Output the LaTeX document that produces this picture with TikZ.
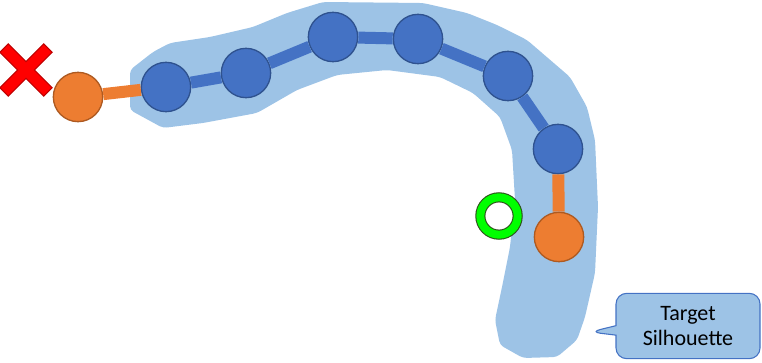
\documentclass[tikz,border=0pt]{standalone}
\usepackage{fontspec}
\setmainfont{Carlito}
\usepackage{xcolor}
\usetikzlibrary{shapes.callouts}
\definecolor{sil}{HTML}{9DC3E6}
\definecolor{seg}{HTML}{4472C4}
\definecolor{segdark}{HTML}{2F528F}
\definecolor{tip}{HTML}{ED7D31}
\definecolor{tipdark}{HTML}{AE5A21}
\definecolor{goal}{HTML}{00FF00}
\definecolor{goaldark}{HTML}{2E4F1A}

\begin{document}
\begin{tikzpicture}[x=0.75pt, y=-0.75pt,
		bd/.style={circle, draw=segdark, fill=seg, line width=1pt, minimum size=37pt, inner sep=0pt},
		en/.style={circle, draw=tipdark, fill=tip, line width=1pt, minimum size=37pt, inner sep=0pt},
		lk/.style={line width=9pt, seg},
		tl/.style={line width=9pt, tip}]
	\useasboundingbox (0,0) rectangle (762,363);
	% target silhouette
	\fill[sil, rounded corners=3pt] (130,70) -- (153,52) -- (170,43) -- (210,37) -- (253,27)
		-- (287,13) -- (323,2) -- (423,3) -- (467,13) -- (497,25) -- (527,40) -- (570,77)
		-- (587,107) -- (595,140) -- (598,207) -- (595,273) -- (585,317) -- (577,340)
		-- (557,357) -- (523,358) -- (500,345) -- (495,320) -- (502,287) -- (510,247)
		-- (515,200) -- (512,150) -- (500,117) -- (473,93) -- (440,77) -- (387,70)
		-- (337,75) -- (297,90) -- (257,113) -- (203,123) -- (163,128) -- (130,110) -- cycle;
	\node[rectangle callout, rounded corners=8pt, draw=seg, fill=sil, line width=0.8pt,
		minimum width=108pt, minimum height=49pt, align=center, font=\fontsize{16.5}{19}\selectfont,
		callout absolute pointer={(590,332)}] (lbl) at (688,326) {Target\\Silhouette};
	% chain
	\node[en] (t0) at (78,97) {};
	\node[bd] (b1) at (166,87) {};
	\node[bd] (b2) at (246,73) {};
	\node[bd] (b3) at (333,37) {};
	\node[bd] (b4) at (418,39) {};
	\node[bd] (b5) at (508,76) {};
	\node[bd] (b6) at (558,149) {};
	\node[en] (t1) at (559,237) {};
	\foreach \x/\y in {b1/b2, b2/b3, b3/b4, b4/b5, b5/b6}
		\draw[lk] (\x) -- (\y);
	\draw[tl] (t0) -- (b1);
	\draw[tl] (b6) -- (t1);
	% goal ring and rejected end
	\node[circle, draw=goaldark, double=goal, double distance=6pt, line width=0.8pt,
		minimum size=28pt, inner sep=0pt] (g) at (499,216) {};
	\begin{scope}[shift={(26,70)}, rotate=45]
		\filldraw[fill=red, draw=red!75!black, line width=0.8pt]
			(-6,31) -- (6,31) -- (6,6) -- (31,6) -- (31,-6) -- (6,-6) -- (6,-31)
			-- (-6,-31) -- (-6,-6) -- (-31,-6) -- (-31,6) -- (-6,6) -- cycle;
	\end{scope}
\end{tikzpicture}
\end{document}
